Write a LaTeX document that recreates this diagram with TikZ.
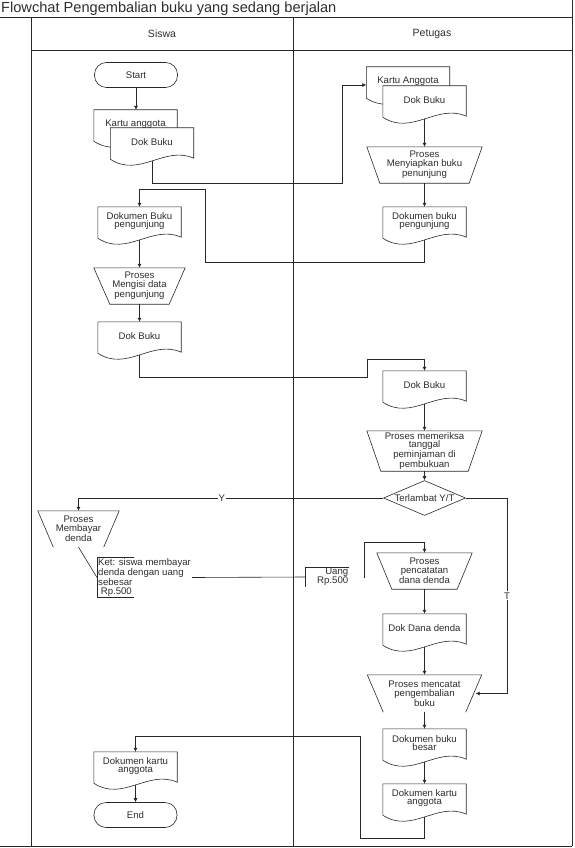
\documentclass[tikz,border=0pt]{standalone}
\usepackage{fontspec}
\setmainfont{Liberation Sans}
\usepackage{tikz}
\usetikzlibrary{arrows.meta,shapes.geometric,backgrounds}
\definecolor{lineclr}{RGB}{40,40,40}
\definecolor{txtclr}{RGB}{45,45,45}

\tikzset{
  base/.style={font=\fontsize{9.6}{8.8}\selectfont, text=txtclr, align=center, inner sep=1pt},
  terminal/.style={base, draw=lineclr, line width=0.6pt, rounded corners=12pt, minimum width=83pt, minimum height=25pt},
  docbox/.style={base, minimum width=83pt, minimum height=28pt},
  procbox/.style={base, minimum height=36pt},
  decision/.style={base, draw=lineclr, line width=0.6pt, diamond, aspect=2.3, minimum width=82pt, minimum height=35pt, inner sep=0pt},
  outline/.style={draw=lineclr, line width=0.6pt, fill=white},
  flow/.style={draw=lineclr, line width=0.6pt, -{Latex[length=4pt,width=4pt]}},
  link/.style={draw=lineclr, line width=0.6pt},
  lbl/.style={base, fill=white, inner sep=1pt},
  frame/.style={draw=lineclr, line width=0.8pt}
}
% document symbol: box with a wavy bottom
\newcommand{\docline}[1]{%
  \begin{scope}[on background layer]
  \path[outline] (#1.north west) -- (#1.north east) -- ([yshift=-2pt]#1.south east)
    .. controls ([xshift=-29pt,yshift=11pt]#1.south east) and ([xshift=29pt,yshift=-22pt]#1.south west) .. ([yshift=-3pt]#1.south west) -- cycle;
  \end{scope}}
% manual operation (closed and open bottom)
\newcommand{\manop}[2]{\draw[link] (#1.north west) -- (#1.north east) -- ([xshift=-#2]#1.south east) -- ([xshift=#2]#1.south west) -- cycle;}
\newcommand{\manopen}[2]{\draw[link] ([xshift=#2]#1.south west) -- (#1.north west) -- (#1.north east) -- ([xshift=-#2]#1.south east);}

\begin{document}
\begin{tikzpicture}[x=1pt, y=-1pt]
\useasboundingbox (0,0) rectangle (574,848);

% Frame
\draw[frame] (0,17) -- (572,17);
\draw[frame] (572,0) -- (572,846);
\draw[frame] (0,846) -- (572,846);
\draw[frame] (31,17) -- (31,846);
\draw[frame] (293,17) -- (293,846);
\draw[frame] (31,50) -- (572,50);
\node[anchor=west, font=\fontsize{14.6}{15}\selectfont, text=txtclr, inner sep=0pt] (title) at (1,8.5) {Flowchat Pengembalian buku yang sedang berjalan};
\node[base, font=\fontsize{10.5}{11}\selectfont] (hs) at (162,34) {Siswa};
\node[base, font=\fontsize{10.5}{11}\selectfont] (hp) at (432,34) {Petugas};

% Siswa
\node[terminal] (start) at (136,75) {Start};
\node[docbox] (ka1) at (135.5,124) {\raisebox{2pt}{Kartu anggota}};
\node[docbox] (db1) at (152,142) {Dok Buku};
\docline{ka1}
\docline{db1}
\node[docbox] (ds1) at (139.5,221) {Dokumen Buku\\pengunjung};
\docline{ds1}
\node[procbox, minimum width=91pt] (pi) at (139.5,286) {Proses\\Mengisi data\\pengunjung};
\manop{pi}{16pt}
\node[docbox] (ds3) at (139.5,336) {Dok Buku};
\docline{ds3}
\node[procbox, minimum width=81pt] (pb) at (78.5,529) {Proses\\Membayar\\denda};
\manopen{pb}{15.5pt}
\node[base, anchor=west, align=left] (ket) at (97,577.5) {Ket: siswa membayar\\denda dengan uang\\sebesar\\\ Rp.500};
\draw[link] ([xshift=37pt]ket.north west) -- (ket.north west) -- (ket.south west) -- ([xshift=37pt]ket.south west);
\node[docbox] (dka) at (135.5,766) {Dokumen kartu\\anggota};
\docline{dka}
\node[terminal] (end) at (135.5,815) {End};

% Petugas
\node[docbox] (ka2) at (408,81) {\raisebox{2pt}{Kartu Anggota}};
\node[docbox] (db2) at (424.5,100) {Dok Buku};
\docline{ka2}
\docline{db2}
\node[procbox, minimum width=115pt] (pm1) at (424.5,165) {Proses\\Menyiapkan buku\\penunjung};
\manop{pm1}{13pt}
\node[docbox] (dp2) at (424.5,221) {Dokumen buku\\pengunjung};
\docline{dp2}
\node[docbox] (dp3) at (424.5,385) {Dok Buku};
\docline{dp3}
\node[procbox, minimum width=115pt, minimum height=40pt] (pp) at (424.5,451) {Proses memeriksa\\tanggal\\peminjaman di\\pembukuan};
\manop{pp}{14pt}
\node[decision] (dt) at (424.5,498) {Terlambat Y/T};
\node[base, anchor=west, text width=42pt, align=right] (ua) at (305,577) {Uang\\Rp.500};
\draw[link] (ua.north east) -- (ua.north west) -- (ua.south west);
\coordinate (uo) at (364,578);
\node[procbox, minimum width=95pt] (pc) at (424.5,571) {Proses\\pencatatan\\dana denda};
\manop{pc}{15pt}
\node[docbox] (dd) at (424.5,628) {Dok Dana denda};
\docline{dd}
\node[procbox, minimum width=114pt, minimum height=37pt] (pk) at (424.5,693.5) {Proses mencatat\\pengembalian\\buku};
\manopen{pk}{16pt}
\node[docbox] (dbb) at (424.5,743) {Dokumen buku\\besar};
\docline{dbb}
\node[docbox] (dkp) at (424.5,798) {Dokumen kartu\\anggota};
\docline{dkp}

% Connectors
\draw[flow] (start.south) -- (start.south |- ka1.north);
\draw[flow] ([yshift=-5pt]db1.south) |- (342,183) -- (342,85) -- ([yshift=-4pt]ka2.west);
\draw[flow] ([yshift=-5pt]db2.south) -- (pm1.north);
\draw[flow] (pm1.south) -- (dp2.north);
\draw[flow] ([yshift=-5pt]dp2.south) |- (205,262) -- (205,189) -| (ds1.north);
\draw[flow] ([yshift=-5pt]ds1.south) -- (pi.north);
\draw[flow] (pi.south) -- (ds3.north);
\draw[flow] ([yshift=-5pt]ds3.south) |- (367,377) -- (367,359) -| (dp3.north);
\draw[flow] ([yshift=-5pt]dp3.south) -- (pp.north);
\draw[flow] (pp.south) -- (dt.north);
\draw[flow] (dt.west) -- node[lbl, pos=0.53] {Y} (dt.west -| pb.north) -- (pb.north);
\draw[flow] (dt.east) -| node[lbl, pos=0.75] {T} (507,693.5) -- ([xshift=-6pt]pk.east);
\draw[link] (pb.south) -- (ket.west);
\draw[link] (ket.east) -- (ua.west);
\draw[flow] (uo) -- (364,542) -| (pc.north);
\draw[flow] (pc.south) -- (dd.north);
\draw[flow] ([yshift=-5pt]dd.south) -- (pk.north);
\draw[flow] (pk.south) -- (dbb.north);
\draw[flow] ([yshift=-5pt]dbb.south) -- (dkp.north);
\draw[flow] ([yshift=-5pt]dkp.south) |- (360,838) -- (360,736) -| (dka.north);
\draw[flow] ([yshift=-5pt]dka.south) -- (end.north);
\end{tikzpicture}
\end{document}
